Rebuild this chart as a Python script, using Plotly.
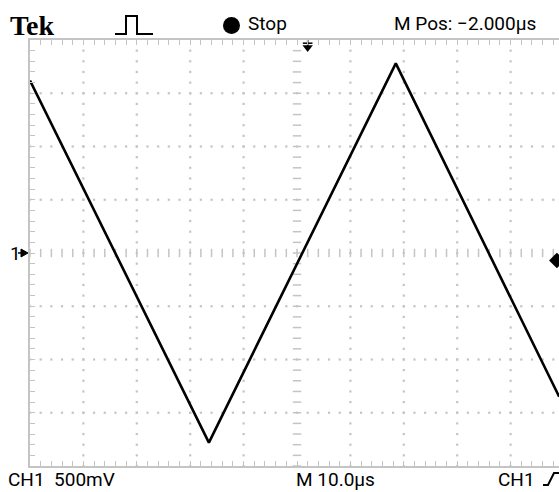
import numpy as np
import plotly.graph_objects as go

time_us = [-50.0, -16.5, 18.5, 49.1]        # vertices of the triangle wave (µs, relative to screen centre)
volts = [1.62, -1.78, 1.78, -1.35]          # CH1 voltage at the vertices (V)
volts_per_div = 0.5
us_per_div = 10.0
trigger_pos_us = 2.0
trigger_level_v = -0.07
header_left = "Tek"
status_text = "Stop"
mpos_text = "M Pos: \u22122.000\u00b5s"
ch_text = "CH1  500mV"
time_text = "M 10.0\u00b5s"
trig_text = "CH1"

# ---- layout geometry ----
W, H = 559, 492
L, T, B, R = 30, 40, 26, 0
PW = W - L - R
PH = H - T - B
px_per_us = 53.4 / us_per_div
x_range = [-5 * us_per_div, -5 * us_per_div + PW / px_per_us]
y_range = [-4 * volts_per_div, 4 * volts_per_div]


def pxp(x):
    return (x - L) / PW


def pyp(y):
    return (H - B - y) / PH


GRID = "#c4c4c4"
FONT = "Roboto, Liberation Sans, Arial, sans-serif"
FS = 19

fig = go.Figure()

# dotted graticule
dx = us_per_div / 5
dy = volts_per_div / 5
gx, gy = [], []
for k in [-4, -3, -2, -1, 1, 2, 3, 4]:
    xv = k * us_per_div
    for yv in np.arange(y_range[0], y_range[1] + 1e-9, dy):
        gx.append(xv); gy.append(yv)
for k in [-3, -2, -1, 1, 2, 3]:
    yv = k * volts_per_div
    for xv in np.arange(-50, 50 + 1e-9, dx):
        gx.append(xv); gy.append(yv)
fig.add_trace(go.Scatter(x=gx, y=gy, mode="markers", hoverinfo="skip",
                         marker=dict(symbol="square", size=2.2, color=GRID, line_width=0)))

# centre cross-hair ticks
cx = list(np.arange(-50, 50 + 1e-9, dx))
fig.add_trace(go.Scatter(x=cx, y=[0] * len(cx), mode="markers", hoverinfo="skip",
                         marker=dict(symbol="line-ns", size=6, line=dict(color=GRID, width=1.5))))
cy = list(np.arange(y_range[0], y_range[1] + 1e-9, dy))
fig.add_trace(go.Scatter(x=[0] * len(cy), y=cy, mode="markers", hoverinfo="skip",
                         marker=dict(symbol="line-ew", size=6, line=dict(color=GRID, width=1.5))))

# waveform
fig.add_trace(go.Scatter(x=time_us, y=volts, mode="lines", hoverinfo="skip",
                         line=dict(color="black", width=2.6)))

fig.update_xaxes(range=x_range, showgrid=False, zeroline=False, showticklabels=False,
                 showline=True, linecolor=GRID, linewidth=1.5, mirror="ticks",
                 ticks="inside", tick0=-50, dtick=dx, ticklen=5, tickwidth=1, tickcolor=GRID)
fig.update_yaxes(range=y_range, showgrid=False, zeroline=False, showticklabels=False,
                 showline=True, linecolor=GRID, linewidth=1.5, mirror=False,
                 ticks="inside", tick0=y_range[0], dtick=dy, ticklen=5, tickwidth=1, tickcolor=GRID)

shapes = []
# pulse (acquisition mode) icon
path = "M {} {} L {} {} L {} {} L {} {} L {} {} L {} {}".format(
    pxp(115), pyp(34), pxp(126), pyp(34), pxp(126), pyp(16),
    pxp(137), pyp(16), pxp(137), pyp(34), pxp(153), pyp(34))
shapes.append(dict(type="path", path=path, xref="paper", yref="paper",
                   line=dict(color="black", width=2)))
# run/stop dot
shapes.append(dict(type="circle", xref="paper", yref="paper",
                   x0=pxp(223), x1=pxp(240), y0=pyp(17), y1=pyp(34),
                   fillcolor="black", line=dict(color="black", width=0)))
# trigger slope icon at bottom right
path2 = "M {} {} L {} {} L {} {} L {} {}".format(
    pxp(543), pyp(485), pxp(548), pyp(485), pxp(554), pyp(473), pxp(559), pyp(473))
shapes.append(dict(type="path", path=path2, xref="paper", yref="paper",
                   line=dict(color="black", width=2)))
# channel 1 ground marker (small right-pointing arrow)
path3 = "M {} {} L {} {} L {} {} Z".format(
    pxp(21), pyp(249), pxp(28), pyp(253), pxp(21), pyp(257))
shapes.append(dict(type="path", path=path3, xref="paper", yref="paper",
                   fillcolor="black", line=dict(color="black", width=1)))
shapes.append(dict(type="line", xref="paper", yref="paper",
                   x0=pxp(18), x1=pxp(24), y0=pyp(253), y1=pyp(253),
                   line=dict(color="black", width=1.5)))
fig.update_layout(shapes=shapes)

ann = []
ann.append(dict(text="<b>" + header_left + "</b>", x=pxp(8), y=pyp(25), xref="paper", yref="paper",
                xanchor="left", yanchor="middle", showarrow=False,
                font=dict(family="Liberation Serif, DejaVu Serif, serif", size=28, color="black")))
ann.append(dict(text=status_text, x=pxp(246), y=pyp(24), xref="paper", yref="paper",
                xanchor="left", yanchor="middle", showarrow=False,
                font=dict(family=FONT, size=FS, color="black")))
ann.append(dict(text=mpos_text, x=pxp(392), y=pyp(24), xref="paper", yref="paper",
                xanchor="left", yanchor="middle", showarrow=False,
                font=dict(family=FONT, size=FS, color="black")))
ann.append(dict(text=ch_text, x=pxp(6), y=pyp(479), xref="paper", yref="paper",
                xanchor="left", yanchor="middle", showarrow=False,
                font=dict(family=FONT, size=FS, color="black")))
ann.append(dict(text=time_text, x=pxp(294), y=pyp(479), xref="paper", yref="paper",
                xanchor="left", yanchor="middle", showarrow=False,
                font=dict(family=FONT, size=FS, color="black")))
ann.append(dict(text=trig_text, x=pxp(496), y=pyp(479), xref="paper", yref="paper",
                xanchor="left", yanchor="middle", showarrow=False,
                font=dict(family=FONT, size=FS, color="black")))
ann.append(dict(text="1", x=pxp(8), y=0, xref="paper", yref="y",
                xanchor="left", yanchor="middle", showarrow=False,
                font=dict(family=FONT, size=FS, color="black")))
fig.update_layout(annotations=ann)

# trigger position and trigger level markers
fig.add_trace(go.Scatter(x=[trigger_pos_us], y=[y_range[1] - 0.07], mode="markers", cliponaxis=False,
                         hoverinfo="skip", marker=dict(symbol="triangle-down", size=9, color="black")))
fig.add_trace(go.Scatter(x=[trigger_pos_us, trigger_pos_us], y=[y_range[1] + 0.02, y_range[1] - 0.09],
                         mode="lines", cliponaxis=False, hoverinfo="skip",
                         line=dict(color="black", width=1.5)))
fig.add_trace(go.Scatter(x=[trigger_pos_us - 0.9, trigger_pos_us + 0.9], y=[y_range[1] - 0.03] * 2,
                         mode="lines", cliponaxis=False, hoverinfo="skip",
                         line=dict(color="black", width=1.5)))
fig.add_trace(go.Scatter(x=[x_range[1] - 0.4], y=[trigger_level_v], mode="markers", cliponaxis=False,
                         hoverinfo="skip", marker=dict(symbol="diamond", size=12, color="black")))

fig.update_layout(width=W, height=H, margin=dict(l=L, r=R, t=T, b=B, pad=0),
                  paper_bgcolor="white", plot_bgcolor="white", showlegend=False)

fig.write_html("out.html", config={"displayModeBar": False},
               post_script="document.body.style.margin='0';document.body.style.padding='0';")
